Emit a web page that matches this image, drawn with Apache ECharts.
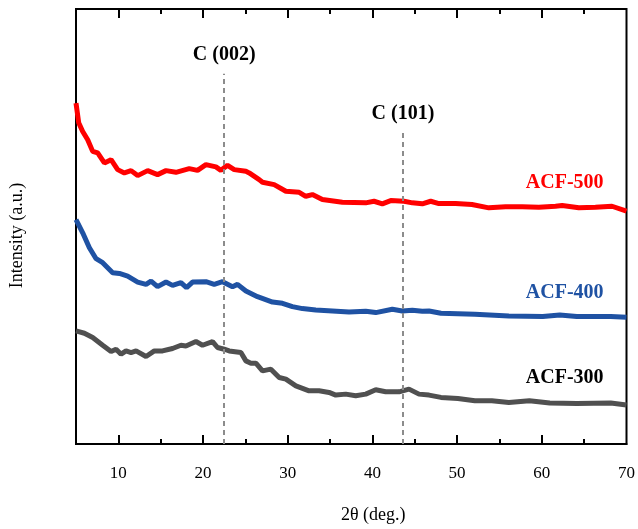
<!DOCTYPE html>
<html>
<head>
<meta charset="utf-8">
<script src="https://cdn.jsdelivr.net/npm/echarts@6/dist/echarts.min.js"></script>
<style>html,body{margin:0;padding:0;background:#fff}#c{width:638px;height:529px}</style>
</head>
<body>
<div id="c"></div>
<script>
// 2θ values (deg.) and intensity (a.u., offset stacked)
var acf500X = [5.0,5.32,5.79,6.38,6.97,7.56,8.35,9.14,9.92,10.71,11.5,12.28,13.46,14.63,15.63,16.8,18.37,19.35,20.34,21.52,22.11,22.89,23.68,25.06,25.45,26.63,27.02,28.4,29.78,31.35,32.13,32.91,34.09,36.45,39.21,40.19,41.17,42.16,43.73,44.71,45.89,46.88,47.85,49.82,51.75,53.75,55.72,57.68,59.65,61.62,62.4,64.37,66.33,68.29,70.0];
var acf500Y = [341.7,322,313.3,305,293.3,291.7,281.7,285,275,271.7,274,269,274,270,274,272.3,276,274.3,280,277.7,274.3,279.3,275,273.3,271.7,265,262.3,260,253.3,252.3,248.3,250,245,242.3,241.7,243.3,240.7,244,243.3,241.7,240.7,243.3,241,241,240,236.7,237.7,237.7,237.3,238.3,239,236.7,237.3,238.3,233.3];

var acf400X = [5.0,5.79,6.58,7.37,8.15,9.33,10.12,11.1,12.28,13.27,13.86,14.63,15.63,16.4,17.39,18.05,18.76,20.34,21.32,22.3,23.48,24.07,25.06,26.43,28.2,29.38,30.55,31.73,33.31,35.27,37.24,39.21,40.39,42.35,43.53,44.71,45.89,46.68,48.09,52.1,56.11,60.12,62.12,64.13,68.14,70.0];
var acf400Y = [225,211.7,196.7,185.7,181.7,171.7,171,168.3,162.3,160,163.3,157.7,162.3,159,161.7,156.7,162.3,162.7,160,162.7,157.7,160,153.3,147.7,142.3,141,137.7,135.7,134.3,133.3,132.3,133,131.7,135,133.3,134,133,133.3,131,130,128.3,127.7,129.3,127.7,127.7,127];

var acf300X = [5.0,5.99,6.97,8.15,9.14,9.73,10.32,10.91,11.5,12.09,13.27,14.25,15.22,16.4,17.39,17.98,19.16,19.94,21.12,21.71,22.5,23.09,24.47,25.06,25.65,26.24,27.02,28.01,28.99,29.78,30.96,32.52,33.7,34.88,35.67,36.85,38.03,39.21,40.39,41.57,43.14,44.32,45.5,46.68,48.09,50.09,52.1,54.1,56.11,58.53,60.94,64.13,68.14,70.0];
var acf300Y = [113.3,111,106.7,99,92.7,95,90,93.3,91.7,93.3,87.7,93.3,93.3,95.7,99,98.3,102.7,99,102.7,96.7,95,93.3,91.7,83.3,81,81,73.3,75,66.7,65,58.3,53.3,53.3,51.7,49,50,48.3,50,54.3,52.3,52.3,55,50,49,46.7,45.7,43.3,43.3,41.7,43.3,41,40.7,41,39];

var seriesNames = ['ACF-500','ACF-400','ACF-300'];
var tickLabels = [10,20,30,40,50,60,70];
var majorTicks = [10,20,30,40,50,60];
var minorTicks = [15,25,35,45,55,65];
var peakPos = [22.5, 43.6];
var peakNames = ['C (002)','C (101)'];
var peakTop = [371, 312];
var nameLabelPos = [[62.7,262],[62.7,152],[62.7,66]];

var FONT = '"Liberation Serif", "Times New Roman", serif';
var colors = ['#ff0000','#1f52a3','#505050'];
var labelColors = ['#ff0000','#1f52a3','#000000'];

function pairs(xs, ys){ return xs.map(function(x,i){ return [x, ys[i]]; }); }
var datasets = [pairs(acf500X,acf500Y), pairs(acf400X,acf400Y), pairs(acf300X,acf300Y)];

function tickAxis(pos, vals, len){
  return {
    type:'value', min:5, max:70, position:pos,
    axisLine:{show:false},
    splitLine:{show:false},
    axisTick:{show:true, inside:true, length:len, customValues:vals, lineStyle:{color:'#000', width:2}},
    axisLabel:{show:false}
  };
}

var xAxes = [
  {
    type:'value', min:5, max:70, position:'bottom',
    name:'2θ (deg.)', nameLocation:'middle', nameGap:62,
    nameTextStyle:{fontFamily:FONT, fontSize:18, color:'#000', padding:[0,0,0,44]},
    axisLine:{show:true, lineStyle:{color:'#000', width:2}},
    splitLine:{show:false},
    axisTick:{show:true, inside:true, length:9, customValues:majorTicks, lineStyle:{color:'#000', width:2}},
    axisLabel:{show:true, customValues:tickLabels, margin:21, fontFamily:FONT, fontSize:17, color:'#000'}
  },
  tickAxis('bottom', minorTicks, 5),
  tickAxis('top', majorTicks, 9),
  tickAxis('top', minorTicks, 5)
];

var series = datasets.map(function(d, i){
  return {
    name: seriesNames[i], type:'line', data:d, xAxisIndex:0,
    showSymbol:false, symbol:'none', smooth:false,
    lineStyle:{color:colors[i], width:5},
    z: 3,
    markPoint:{
      symbol:'circle', symbolSize:0, silent:true,
      data:[{coord:nameLabelPos[i], value:seriesNames[i]}],
      label:{show:true, position:'inside', formatter:seriesNames[i], color:labelColors[i], fontFamily:FONT, fontSize:20, fontWeight:'bold'}
    }
  };
});

series.push({
  type:'line', data:[], xAxisIndex:0,
  markLine:{
    silent:true, symbol:['none','none'],
    lineStyle:{color:'#8c8c8c', width:2, type:[5,4]},
    data: peakPos.map(function(p, i){
      return [
        {coord:[p, 0]},
        {coord:[p, peakTop[i]], label:{show:true, position:'end', distance:9, formatter:peakNames[i], color:'#000', fontFamily:FONT, fontSize:20, fontWeight:'bold'}}
      ];
    }),
    label:{show:true}
  }
});

var chart = echarts.init(document.getElementById('c'), null, {renderer:'canvas'});
chart.setOption({
  animation:false,
  backgroundColor:'#fff',
  grid:{left:76, right:9, top:9, bottom:84, show:true, borderColor:'#000', borderWidth:2, backgroundColor:'transparent'},
  xAxis: xAxes,
  yAxis:{
    type:'value', min:0, max:436,
    name:'Intensity (a.u.)', nameLocation:'middle', nameGap:50, nameRotate:90,
    nameTextStyle:{fontFamily:FONT, fontSize:18, color:'#000', padding:[0,18,0,0]},
    axisLine:{show:true, lineStyle:{color:'#000', width:2}},
    axisTick:{show:false}, axisLabel:{show:false}, splitLine:{show:false}
  },
  series: series
});
</script>
</body>
</html>
